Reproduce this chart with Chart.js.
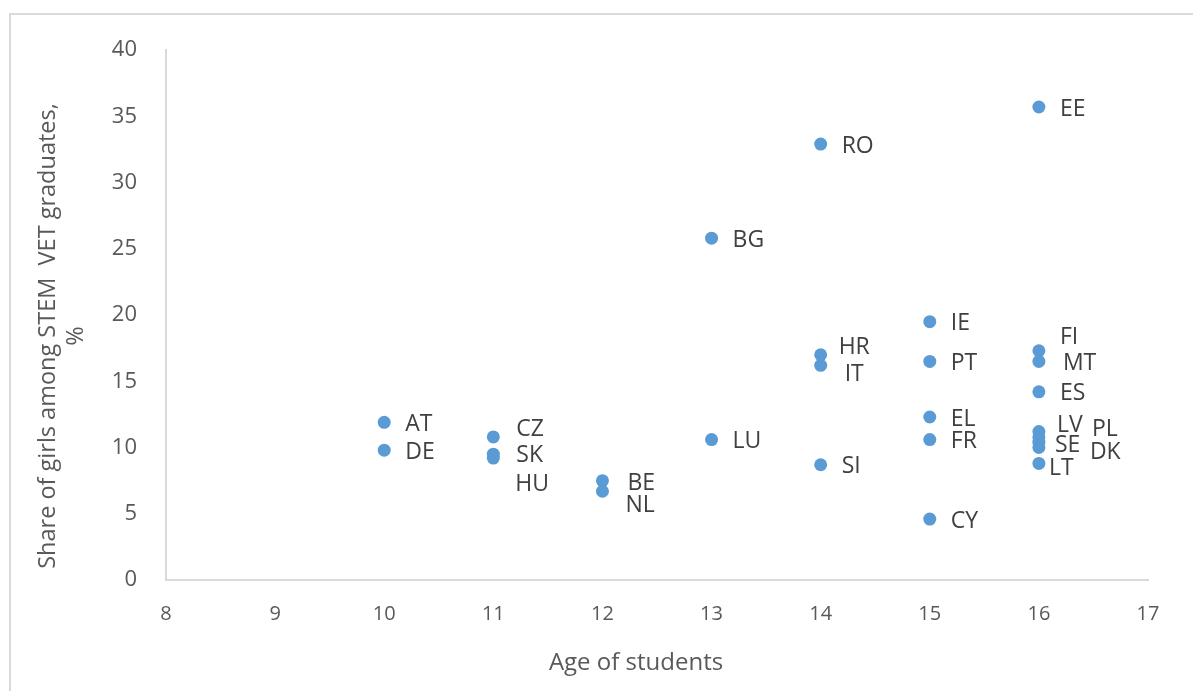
<!DOCTYPE html>
<html>
<head>
<meta charset="utf-8">
<title>Share of girls among STEM VET graduates by age of students</title>
<script src="https://cdn.jsdelivr.net/npm/chart.js@4.4.1/dist/chart.umd.min.js"></script>
<style>
    html, body { margin: 0; padding: 0; background: #fff; }
    #wrap { position: relative; width: 1193px; height: 691px; overflow: hidden; }
    #frame {
        position: absolute; left: 9px; top: 13px; width: 1300px; height: 800px;
        border-left: 2px solid #d9d9d9; border-top: 2px solid #d9d9d9;
    }
    #chart { position: absolute; left: 0; top: 0; }
</style>
</head>
<body>
<div id="wrap">
    <div id="frame"></div>
    <canvas id="chart" width="1193" height="691"></canvas>
</div>
<script>
// Data
const countries = ['AT', 'DE', 'CZ', 'SK', 'HU', 'BE', 'NL', 'LU', 'BG', 'RO', 'HR', 'IT', 'SI',
    'IE', 'PT', 'EL', 'FR', 'CY', 'EE', 'FI', 'MT', 'ES', 'LV', 'PL', 'SE', 'DK', 'LT'];
const ages = [10, 10, 11, 11, 11, 12, 12, 13, 13, 14, 14, 14, 14,
    15, 15, 15, 15, 15, 16, 16, 16, 16, 16, 16, 16, 16, 16];
const shares = [11.9, 9.8, 10.8, 9.5, 9.2, 7.5, 6.7, 10.6, 25.8, 32.9, 17.0, 16.2, 8.7,
    19.5, 16.5, 12.3, 10.6, 4.6, 35.7, 17.3, 16.5, 14.2, 11.2, 10.8, 10.4, 10.0, 8.8];

const X_MIN = 8, X_MAX = 17, X_STEP = 1;
const Y_MIN = 0, Y_MAX = 40, Y_STEP = 5;

const xTitle = 'Age of students';
const yTitle = ['Share of girls among STEM  VET graduates,', '%'];

// label nudges (px) where the data labels were moved by hand to avoid overlap
const DEFAULT_NUDGE = [21, 2];
const labelNudge = {
    CZ: [23, -7], SK: [23, 1], HU: [22, 26], BE: [25, 3], NL: [23, 14],
    HR: [18, -7], IT: [24, 9], FI: [21, -13], MT: [24, 2],
    LV: [18, -6], PL: [53, -7], SE: [16, 3], DK: [51, 5], LT: [10, 5]
};

const TEXT = '#595959';
const LABEL = '#404040';
const DOT = '#5b9bd5';
const AXIS = '#d9d9d9';

const points = ages.map((a, i) => ({ x: a, y: shares[i] }));

// draws country labels next to each dot
const pointLabels = {
    id: 'pointLabels',
    afterDatasetsDraw(chart) {
        const ctx = chart.ctx;
        const meta = chart.getDatasetMeta(0);
        ctx.save();
        ctx.font = "23px 'Open Sans', sans-serif";
        ctx.fillStyle = LABEL;
        ctx.textAlign = 'left';
        ctx.textBaseline = 'middle';
        meta.data.forEach((el, i) => {
            const n = labelNudge[countries[i]] || DEFAULT_NUDGE;
            ctx.fillText(countries[i], el.x + n[0], el.y + n[1]);
        });
        ctx.restore();
    }
};

// axis titles, placed like the original (not centred on the plot)
const axisTitles = {
    id: 'axisTitles',
    afterDraw(chart) {
        const ctx = chart.ctx;
        ctx.save();
        ctx.fillStyle = TEXT;
        ctx.textAlign = 'center';
        ctx.textBaseline = 'middle';
        ctx.font = "24px 'Liberation Sans Narrow', 'Open Sans', sans-serif";
        ctx.fillText(xTitle, 636, 663);

        ctx.font = "23.5px 'Open Sans', sans-serif";
        ctx.translate(48, 336);
        ctx.rotate(-Math.PI / 2);
        ctx.fillText(yTitle[0], 0, 0);
        ctx.fillText(yTitle[1], 0, 28);
        ctx.restore();
    }
};

function initChart() {
    const ctx = document.getElementById('chart').getContext('2d');
    return new Chart(ctx, {
        type: 'scatter',
        data: {
            datasets: [{
                label: 'Share of girls',
                data: points,
                backgroundColor: DOT,
                borderColor: DOT,
                borderWidth: 0,
                pointRadius: 6.5,
                pointHoverRadius: 6.5
            }]
        },
        options: {
            responsive: false,
            animation: false,
            events: [],
            layout: { padding: { left: 0, top: 50, right: 45, bottom: 0 } },
            plugins: {
                legend: { display: false },
                tooltip: { enabled: false }
            },
            scales: {
                x: {
                    type: 'linear',
                    min: X_MIN, max: X_MAX,
                    afterFit: (s) => { s.height = 111; },
                    ticks: {
                        stepSize: X_STEP,
                        color: TEXT,
                        padding: 22,
                        font: { family: "'Liberation Sans Narrow', 'Open Sans', sans-serif", size: 20 }
                    },
                    grid: { drawOnChartArea: false, drawTicks: false },
                    border: { color: AXIS, width: 2 }
                },
                y: {
                    type: 'linear',
                    min: Y_MIN, max: Y_MAX,
                    afterFit: (s) => { s.width = 166; },
                    ticks: {
                        stepSize: Y_STEP,
                        color: TEXT,
                        padding: 29,
                        font: { family: "'Open Sans', sans-serif", size: 22 }
                    },
                    grid: { drawOnChartArea: false, drawTicks: false },
                    border: { color: AXIS, width: 2 }
                }
            }
        },
        plugins: [pointLabels, axisTitles]
    });
}

initChart();
</script>
</body>
</html>
